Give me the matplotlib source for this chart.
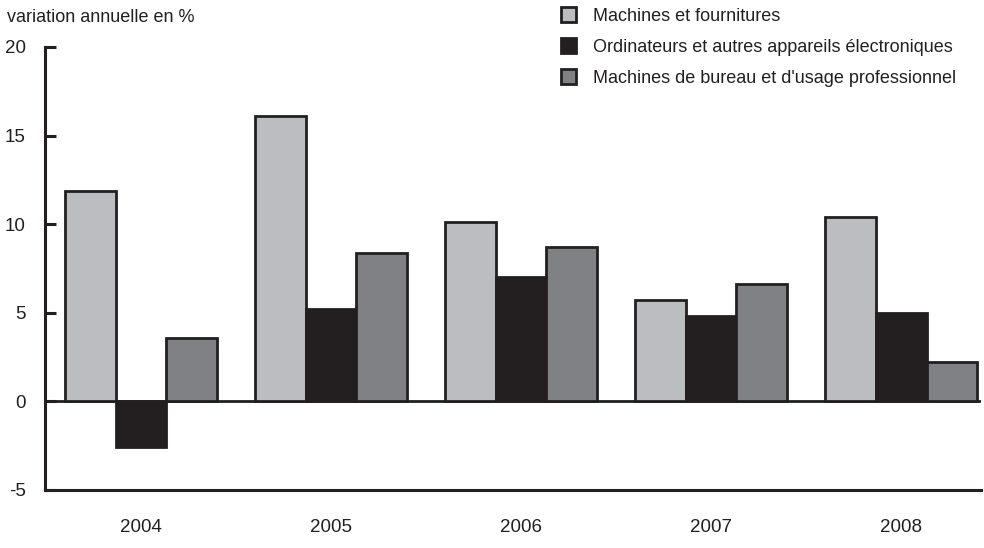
import matplotlib
matplotlib.use("Agg")
import matplotlib.pyplot as plt
import numpy as np

years = ["2004", "2005", "2006", "2007", "2008"]
series_names = [
    "Machines et fournitures",
    "Ordinateurs et autres appareils électroniques",
    "Machines de bureau et d'usage professionnel",
]
machines = [11.9, 16.1, 10.1, 5.7, 10.4]
ordinateurs = [-2.6, 5.2, 7.0, 4.8, 5.0]
bureau = [3.6, 8.4, 8.7, 6.6, 2.2]
colors = ["#bcbdc0", "#231f20", "#808184"]
yticks = [-5, 0, 5, 10, 15, 20]

plt.rcParams['font.family'] = ['Liberation Sans', 'DejaVu Sans']
text_color = "#231f20"

fig = plt.figure(figsize=(9.84, 5.48), dpi=100)
ax = fig.add_axes([45/984, 1-490/548, (981-45)/984, (490-47)/548])

x = np.arange(len(years))
w = 0.267
for i, (vals, c, name) in enumerate(zip([machines, ordinateurs, bureau], colors, series_names)):
    ax.bar(x + (i-1)*w, vals, width=w, color=c, edgecolor="#231f20", linewidth=2.0, label=name, zorder=3)

ax.axhline(0, color="#231f20", linewidth=2.0, zorder=2)
ax.set_xlim(-0.505, 4.42)
ax.set_ylim(-5, 20)
ax.set_yticks(yticks)
ax.set_yticklabels([str(t) for t in yticks])
ax.set_xticks(x)
ax.set_xticklabels(years)
for s in ["top", "right"]:
    ax.spines[s].set_visible(False)
for s in ["left", "bottom"]:
    ax.spines[s].set_linewidth(2.2)
    ax.spines[s].set_color("#231f20")
ax.tick_params(axis="y", direction="in", length=8, width=2.2, color="#231f20", pad=14, labelsize=13.5, labelcolor=text_color)
ax.tick_params(axis="x", length=0, pad=21, labelsize=13.5, labelcolor=text_color)

fig.text(7/984, 1-17/548, "variation annuelle en %", fontsize=13, color=text_color, va="center", ha="left")

leg = fig.legend(loc="upper left", bbox_to_anchor=(561/984, 1-7.5/548), frameon=False, borderpad=0, borderaxespad=0,
                 handlelength=0.85, handleheight=0.85, handletextpad=0.9, labelspacing=0.75, fontsize=13)
for t in leg.get_texts():
    t.set_color(text_color)

fig.savefig("out.png", dpi=100)
